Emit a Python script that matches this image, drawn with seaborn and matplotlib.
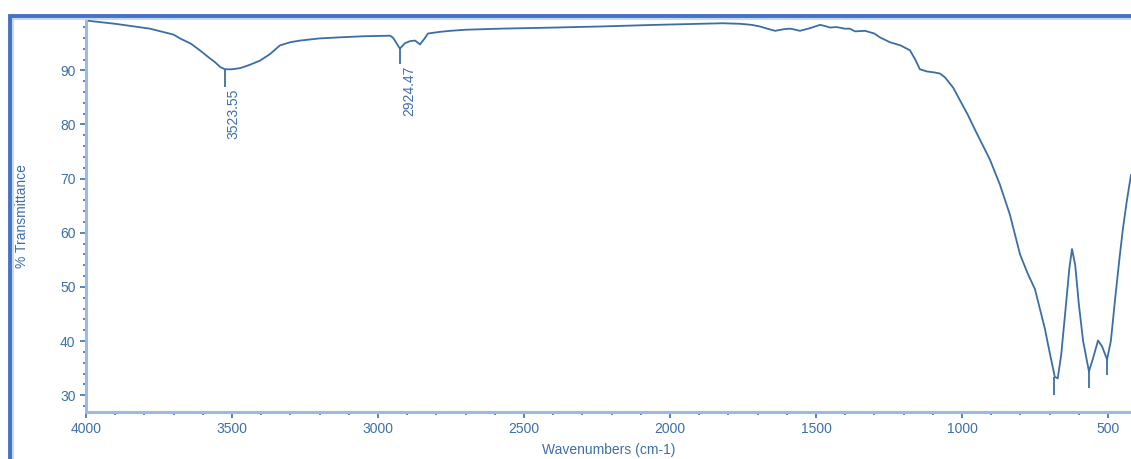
import numpy as np
import pandas as pd
import matplotlib.pyplot as plt
import seaborn as sns
from matplotlib.patches import Rectangle
from matplotlib.ticker import MultipleLocator

# FTIR spectrum
wavenumber = [4000, 3900, 3781, 3700, 3678, 3640, 3610, 3580, 3558, 3540, 3524,
              3500, 3473, 3440, 3404, 3370, 3336, 3300, 3267, 3200, 3130, 3050,
              2959, 2950, 2942, 2925, 2908, 2890, 2873, 2856, 2840, 2829, 2790,
              2753, 2700, 2582, 2400, 2240, 2050, 1897, 1820, 1760, 1720, 1692,
              1660, 1640, 1610, 1589, 1570, 1555, 1520, 1486, 1470, 1452, 1430,
              1401, 1384, 1366, 1332, 1300, 1281, 1247, 1210, 1178, 1160, 1144,
              1120, 1093, 1075, 1058, 1030, 1007, 980, 955, 930, 904, 870, 836,
              801, 775, 750, 716, 700, 682, 672, 660, 645, 632, 623, 612, 600,
              585, 565, 550, 534, 520, 503, 490, 475, 460, 449, 435, 421]
transmittance = [99.2, 98.6, 97.7, 96.6, 95.9, 94.9, 93.7, 92.4, 91.5, 90.6, 90.2,
                 90.2, 90.4, 91.0, 91.8, 93.0, 94.6, 95.2, 95.5, 95.9, 96.1, 96.3,
                 96.4, 96.1, 95.5, 94.0, 95.0, 95.4, 95.5, 94.8, 95.9, 96.8, 97.1,
                 97.3, 97.5, 97.7, 97.9, 98.1, 98.4, 98.6, 98.7, 98.6, 98.4, 98.1,
                 97.6, 97.3, 97.6, 97.7, 97.5, 97.3, 97.8, 98.4, 98.2, 97.9, 98.0,
                 97.7, 97.7, 97.2, 97.3, 96.8, 96.1, 95.2, 94.6, 93.7, 92.0, 90.2,
                 89.8, 89.6, 89.4, 88.7, 86.8, 84.5, 81.8, 79.0, 76.3, 73.5, 68.9,
                 63.4, 56.0, 52.5, 49.6, 42.3, 38.0, 33.4, 33.1, 37.5, 46.0, 53.5,
                 57.0, 54.0, 47.0, 40.0, 34.4, 37.0, 40.1, 39.0, 36.6, 40.0, 48.0,
                 55.5, 60.6, 66.0, 70.7]

# peak marker lines (labelled and unlabelled)
peak_pos = [3523.55, 2924.47, 685, 565, 503]
peak_top = [90.2, 94.0, 33.4, 34.4, 36.6]
peak_bottom = [87.0, 91.1, 30.0, 31.4, 33.7]
peak_labels = ['3523.55', '2924.47', '', '', '']

blue = '#3a6ea5'
text_blue = '#3d6fa8'

sns.set_theme(style='white')
plt.rcParams['font.family'] = ['Liberation Sans Narrow', 'Liberation Sans', 'DejaVu Sans']

fig = plt.figure(figsize=(11.31, 4.59), dpi=100)
ax = fig.add_axes([86 / 1131, 1 - 412 / 459, 1 - 86 / 1131, (412 - 20) / 459])

df = pd.DataFrame({'wn': wavenumber, 'T': transmittance})
sns.lineplot(data=df, x='wn', y='T', sort=False, color=blue, linewidth=1.3, ax=ax)

ax.vlines(peak_pos, peak_bottom, peak_top, color=blue, linewidth=1.3)
for p, b, lab in zip(peak_pos, peak_bottom, peak_labels):
    if lab:
        ax.text(p - 30, b - 0.3, lab, rotation=90, ha='center', va='top',
                color=text_blue, fontsize=10)

ax.set_xlim(4000, 421)
ax.set_ylim(26.9, 99.3)
ax.set_xticks([4000, 3500, 3000, 2500, 2000, 1500, 1000, 500])
ax.xaxis.set_minor_locator(MultipleLocator(100))
ax.set_yticks([30, 40, 50, 60, 70, 80, 90])
ax.yaxis.set_minor_locator(MultipleLocator(2))

for s in ['top', 'right']:
    ax.spines[s].set_visible(False)
for s in ['left', 'bottom']:
    ax.spines[s].set_color('#9dbbe0')
    ax.spines[s].set_linewidth(2.2)

ax.tick_params(axis='both', which='major', direction='out', length=4, width=1.2,
               color=text_blue, labelcolor=text_blue, labelsize=10, bottom=True, left=True)
ax.tick_params(axis='both', which='minor', direction='out', length=2, width=1.2,
               color=text_blue, bottom=True, left=True)

ax.set_xlabel('Wavenumbers (cm-1)', color=text_blue, fontsize=10, labelpad=5)
ax.set_ylabel('% Transmittance', color=text_blue, fontsize=10, va='center')
ax.yaxis.set_label_coords(-0.061, 0.5)

# outer blue window frame
fig.patches.append(Rectangle((10 / 1131, -0.1), 1.2, 1 - 16 / 459 + 0.1,
                             transform=fig.transFigure, fill=False,
                             edgecolor='#4472c4', linewidth=3.5, zorder=0))
fig.patches.append(Rectangle((13 / 1131, -0.1), 1.2, 1 - 19 / 459 + 0.1,
                             transform=fig.transFigure, fill=False,
                             edgecolor='#c5d9ee', linewidth=1.5, zorder=0))

fig.savefig('out.png', dpi=100)
